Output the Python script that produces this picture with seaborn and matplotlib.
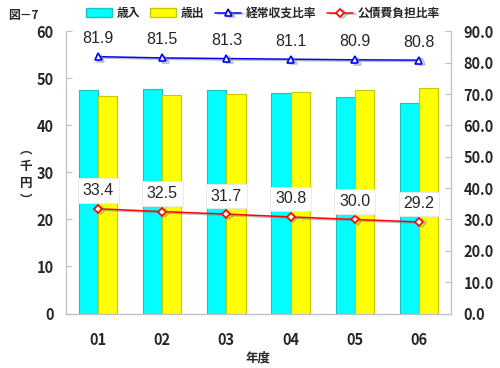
import numpy as np
import pandas as pd
import matplotlib
matplotlib.use("Agg")
import matplotlib.pyplot as plt
import matplotlib.patheffects as pe
from matplotlib.patches import Patch
import seaborn as sns

# data
years = ["01", "02", "03", "04", "05", "06"]
revenue = [47.5, 47.7, 47.5, 46.9, 46.0, 44.7]      # 歳入 (千円)
expenditure = [46.2, 46.5, 46.7, 47.1, 47.6, 48.0]  # 歳出 (千円)
keijo_ratio = [81.9, 81.5, 81.3, 81.1, 80.9, 80.8]  # 経常収支比率
kosai_ratio = [33.4, 32.5, 31.7, 30.8, 30.0, 29.2]  # 公債費負担比率

sns.set_style("white")
plt.rcParams['font.family'] = ['Noto Sans CJK JP', 'DejaVu Sans']
plt.rcParams['font.weight'] = 'bold'

df = pd.DataFrame({
    "year": years * 2,
    "value": revenue + expenditure,
    "kind": ["歳入"] * 6 + ["歳出"] * 6,
})

fig = plt.figure(figsize=(5, 3.68), dpi=100)
ax = fig.add_axes([0.132, 0.148, 0.77, 0.767])

sns.barplot(data=df, x="year", y="value", hue="kind", order=years,
            hue_order=["歳入", "歳出"], palette=["#00ffff", "#ffff00"],
            width=0.6, saturation=1, ax=ax, legend=False)
edge_cols = ["#20c0c0"] * 6 + ["#c8c800"] * 6
for p, ec in zip(ax.patches, edge_cols):
    p.set_edgecolor(ec)
    p.set_linewidth(0.8)

ax.set_ylim(0, 60)
ax.set_xlim(-0.5, 5.5)
ax.set_yticks(range(0, 61, 10))
ax.set_xticks(np.arange(-0.5, 6, 1), minor=True)
ax.set_xticks(range(6))
ax.set_xticklabels(years)
ax.tick_params(axis="x", which="major", length=0, pad=13, labelsize=10.5)
ax.tick_params(axis="x", which="minor", direction="in", length=4, color="#c0c0c0")
ax.tick_params(axis="y", direction="in", length=4, color="#c0c0c0", pad=9, labelsize=10.5)
ax.set_xlabel("年度", fontsize=9, fontweight="bold", labelpad=3)
ax.set_ylabel("")
for s in ["left", "right", "bottom"]:
    ax.spines[s].set_color("#c0c0c0")
ax.spines["top"].set_visible(False)

# vertical unit label, one glyph per line
for i, ch in enumerate(["︵", "千", "円", "︶"]):
    fig.text(0.052, 0.592 - i * 0.045, ch, ha="center", va="center",
             fontsize=9, fontweight="bold")

ax2 = ax.twinx()
ax2.set_ylim(0, 90)
ax2.set_yticks(range(0, 91, 10))
ax2.set_yticklabels([f"{v:.1f}" for v in range(0, 91, 10)])
ax2.tick_params(axis="y", direction="in", length=4, color="#c0c0c0", pad=9, labelsize=10.5)
for s in ["left", "right", "bottom"]:
    ax2.spines[s].set_color("#c0c0c0")
ax2.spines["top"].set_visible(False)

shadow = [pe.SimpleLineShadow(offset=(2, -1), shadow_color="gray", alpha=0.5), pe.Normal()]
xs = np.arange(len(years))
l1, = ax2.plot(xs, keijo_ratio, color="#0000ff", lw=1.1, marker="^", ms=5,
               mfc="white", mec="#0000ff", mew=1.2, label="経常収支比率",
               path_effects=shadow)
l2, = ax2.plot(xs, kosai_ratio, color="#ff0000", lw=1.1, marker="D", ms=4,
               mfc="white", mec="#ff0000", mew=1.2, label="公債費負担比率",
               path_effects=shadow)

for x, v in zip(xs, keijo_ratio):
    ax2.annotate(f"{v:.1f}", (x, v), xytext=(0, 13), textcoords="offset points",
                 ha="center", va="center", fontsize=11.5, fontweight="normal",
                 family=["Liberation Sans", "DejaVu Sans"])
for x, v in zip(xs, kosai_ratio):
    ax2.annotate(f"{v:.1f}", (x, v), xytext=(0, 13), textcoords="offset points",
                 ha="center", va="center", fontsize=11.5, fontweight="normal",
                 family=["Liberation Sans", "DejaVu Sans"],
                 bbox=dict(boxstyle="square,pad=0.3", fc="white", ec="#e8e8e8", lw=0.6))

handles = [Patch(fc="#00ffff", ec="#20c0c0", label="歳入"),
           Patch(fc="#ffff00", ec="#c8c800", label="歳出"), l1, l2]
fig.legend(handles=handles, loc="upper left", bbox_to_anchor=(0.15, 1.01), ncol=4,
           frameon=False, handlelength=2.2, handleheight=0.8,
           columnspacing=0.9, handletextpad=0.4, prop={"weight": "bold", "size": 8.5})

fig.text(0.016, 0.975, "図－7", fontsize=8.5, fontweight="bold", va="top")

fig.savefig("out.png", dpi=100)
